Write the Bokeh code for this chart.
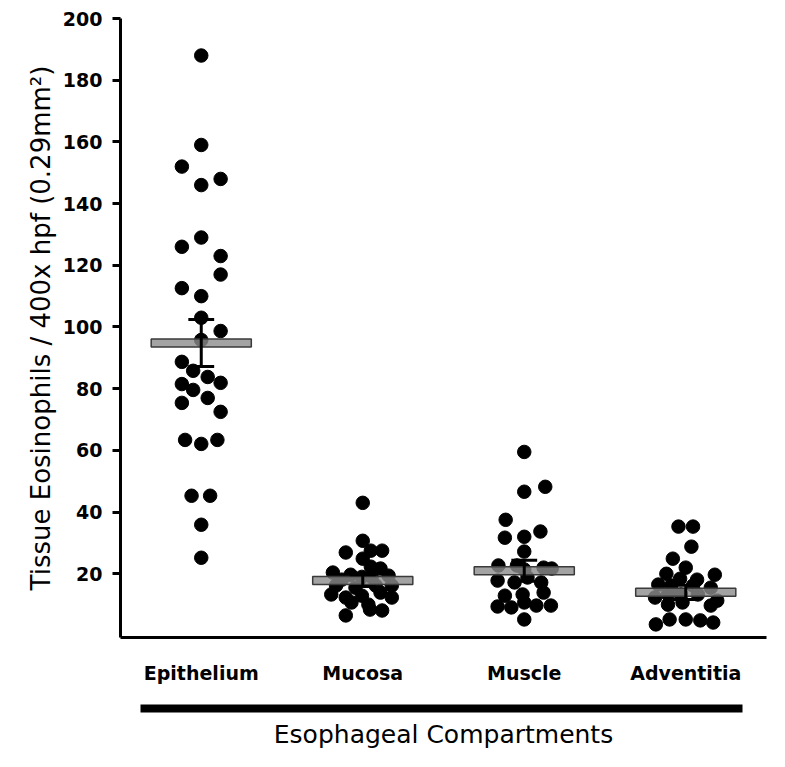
from bokeh.plotting import figure
from bokeh.models import FixedTicker, LinearAxis, Range1d, ColumnDataSource
from bokeh.embed import file_html
from bokeh.resources import INLINE

categories = ["Epithelium", "Mucosa", "Muscle", "Adventitia"]
y_ticks = [20, 40, 60, 80, 100, 120, 140, 160, 180, 200]

epithelium = [188, 159, 152, 146, 148, 129, 126, 123, 117, 112.6, 110, 103, 98.7, 95.8,
              88.7, 85.8, 83.8, 81.5, 81.9, 79.6, 77, 75.4, 72.5, 63.4, 62.1, 63.4,
              45.3, 45.3, 35.9, 25.2]
epithelium_jitter = [0, 0, -0.12, 0, 0.12, 0, -0.12, 0.12, 0.12, -0.12, 0, 0, 0.12, 0,
                     -0.12, -0.05, 0.04, -0.12, 0.12, -0.05, 0.04, -0.12, 0.12, -0.10, 0, 0.10,
                     -0.06, 0.055, 0, 0]

mucosa = [43, 30.7, 26.9, 27.5, 27.5, 24.9, 22.3, 21.7, 20.4, 19.7, 19.4, 18.1, 19.0, 19.0,
          16.2, 15.5, 16.2, 16.2, 13.3, 12.3, 12.9, 13.9, 12.3, 10.7, 10.0, 8.1, 8.4, 6.5]
mucosa_jitter = [0, 0, -0.105, 0.05, 0.12, 0, 0.05, 0.11, -0.185, -0.075, 0.16, -0.13, -0.005, 0.055,
                 -0.165, -0.045, 0.08, 0.18, -0.195, -0.105, -0.005, 0.11, 0.18, -0.07, 0.035, 0.12, 0.045, -0.105]

muscle = [59.5, 46.6, 48.2, 37.5, 33.7, 31.7, 32.0, 27.2, 22.7, 22.7, 22.0, 21.7, 21.4,
          17.8, 17.2, 18.8, 17.2, 12.9, 13.3, 13.9, 9.4, 9.1, 10.7, 9.7, 9.7, 5.2]
muscle_jitter = [0, 0, 0.13, -0.115, 0.10, -0.12, 0, 0, -0.16, -0.045, 0.12, 0.17, 0,
                 -0.165, -0.06, 0.02, 0.105, -0.12, -0.01, 0.12, -0.165, -0.08, 0, 0.075, 0.165, 0]

adventitia = [35.3, 35.3, 28.8, 24.9, 22.0, 20.0, 18.4, 18.1, 19.7, 16.5, 16.2, 16.2, 15.5,
              12.3, 13.3, 13.3, 13.3, 11.3, 10.0, 10.7, 9.7, 5.2, 5.2, 3.6, 4.9, 4.2]
adventitia_jitter = [-0.045, 0.045, 0.035, -0.08, 0, -0.12, -0.035, 0.07, 0.18, -0.17, -0.09, 0.045, 0.155,
                     -0.19, -0.11, -0.03, 0.075, 0.195, -0.11, -0.02, 0.155, -0.10, 0, -0.185, 0.09, 0.17]

means = [94.8, 17.8, 21.0, 14.0]
sems = [7.6, 1.9, 3.4, 2.3]

groups = [epithelium, mucosa, muscle, adventitia]
jitters = [epithelium_jitter, mucosa_jitter, muscle_jitter, adventitia_jitter]
positions = [1, 2, 3, 4]

xs, ys = [], []
for pos, vals, jit in zip(positions, groups, jitters):
    for v, j in zip(vals, jit):
        xs.append(pos + j)
        ys.append(v)
pts = ColumnDataSource(dict(x=xs, y=ys))

p = figure(width=769, height=751, output_backend="svg", toolbar_location=None,
           x_range=Range1d(0.5, 4.5), y_range=Range1d(-0.65, 200.0),
           min_border_left=120, min_border_top=18, min_border_right=3, min_border_bottom=113)
p.outline_line_color = None
p.xgrid.visible = False
p.ygrid.visible = False
p.background_fill_color = "white"
p.border_fill_color = "white"

p.scatter("x", "y", source=pts, size=13.5, color="black")

p.rect(x=positions, y=means, width=0.62, height=8, height_units="screen",
       fill_color="#8c8c8c", fill_alpha=0.8, line_color="#3a3a3a", line_width=1.5)

lo = [m - s for m, s in zip(means, sems)]
hi = [m + s for m, s in zip(means, sems)]
p.segment(x0=positions, y0=lo, x1=positions, y1=hi, line_color="black", line_width=3)
p.segment(x0=[x - 0.08 for x in positions], y0=hi, x1=[x + 0.08 for x in positions], y1=hi,
          line_color="black", line_width=3)
p.segment(x0=[x - 0.08 for x in positions], y0=lo, x1=[x + 0.08 for x in positions], y1=lo,
          line_color="black", line_width=3)

# y axis
ya = p.yaxis[0]
ya.ticker = FixedTicker(ticks=y_ticks)
ya.minor_tick_line_color = None
ya.major_tick_out = 8
ya.major_tick_in = 0
ya.major_tick_line_width = 3
ya.axis_line_width = 3
ya.major_label_standoff = 10
ya.major_label_text_font = "DejaVu Sans"
ya.major_label_text_font_style = "bold"
ya.major_label_text_font_size = "19px"
ya.major_label_text_color = "black"
ya.axis_label = "Tissue Eosinophils / 400x hpf (0.29mm\u00b2)"
ya.axis_label_text_font = "DejaVu Sans"
ya.axis_label_text_font_style = "normal"
ya.axis_label_text_font_size = "26px"
ya.axis_label_text_color = "black"
ya.axis_label_standoff = 4

# x axis
xa = p.xaxis[0]
xa.ticker = FixedTicker(ticks=positions)
xa.major_label_overrides = {pos: c for pos, c in zip(positions, categories)}
xa.minor_tick_line_color = None
xa.major_tick_line_color = None
xa.major_tick_out = 0
xa.major_tick_in = 0
xa.axis_line_width = 3
xa.major_label_standoff = 24
xa.major_label_text_font = "DejaVu Sans"
xa.major_label_text_font_style = "bold"
xa.major_label_text_font_size = "19px"
xa.major_label_text_color = "black"
xa.axis_label = " "
xa.axis_label_text_font_size = "12px"
xa.axis_label_standoff = 5

# thick bar with group title
bar = LinearAxis(bounds=(0.624, 4.351), ticker=FixedTicker(ticks=[]))
bar.axis_line_width = 8
bar.axis_line_color = "black"
bar.major_tick_line_color = None
bar.minor_tick_line_color = None
bar.major_tick_out = 0
bar.minor_tick_out = 0
bar.axis_label = "Esophageal Compartments"
bar.axis_label_text_font = "DejaVu Sans"
bar.axis_label_text_font_style = "normal"
bar.axis_label_text_font_size = "25px"
bar.axis_label_text_color = "black"
bar.axis_label_standoff = 11
p.add_layout(bar, "below")

open("out.html", "w").write(file_html(p, INLINE))
